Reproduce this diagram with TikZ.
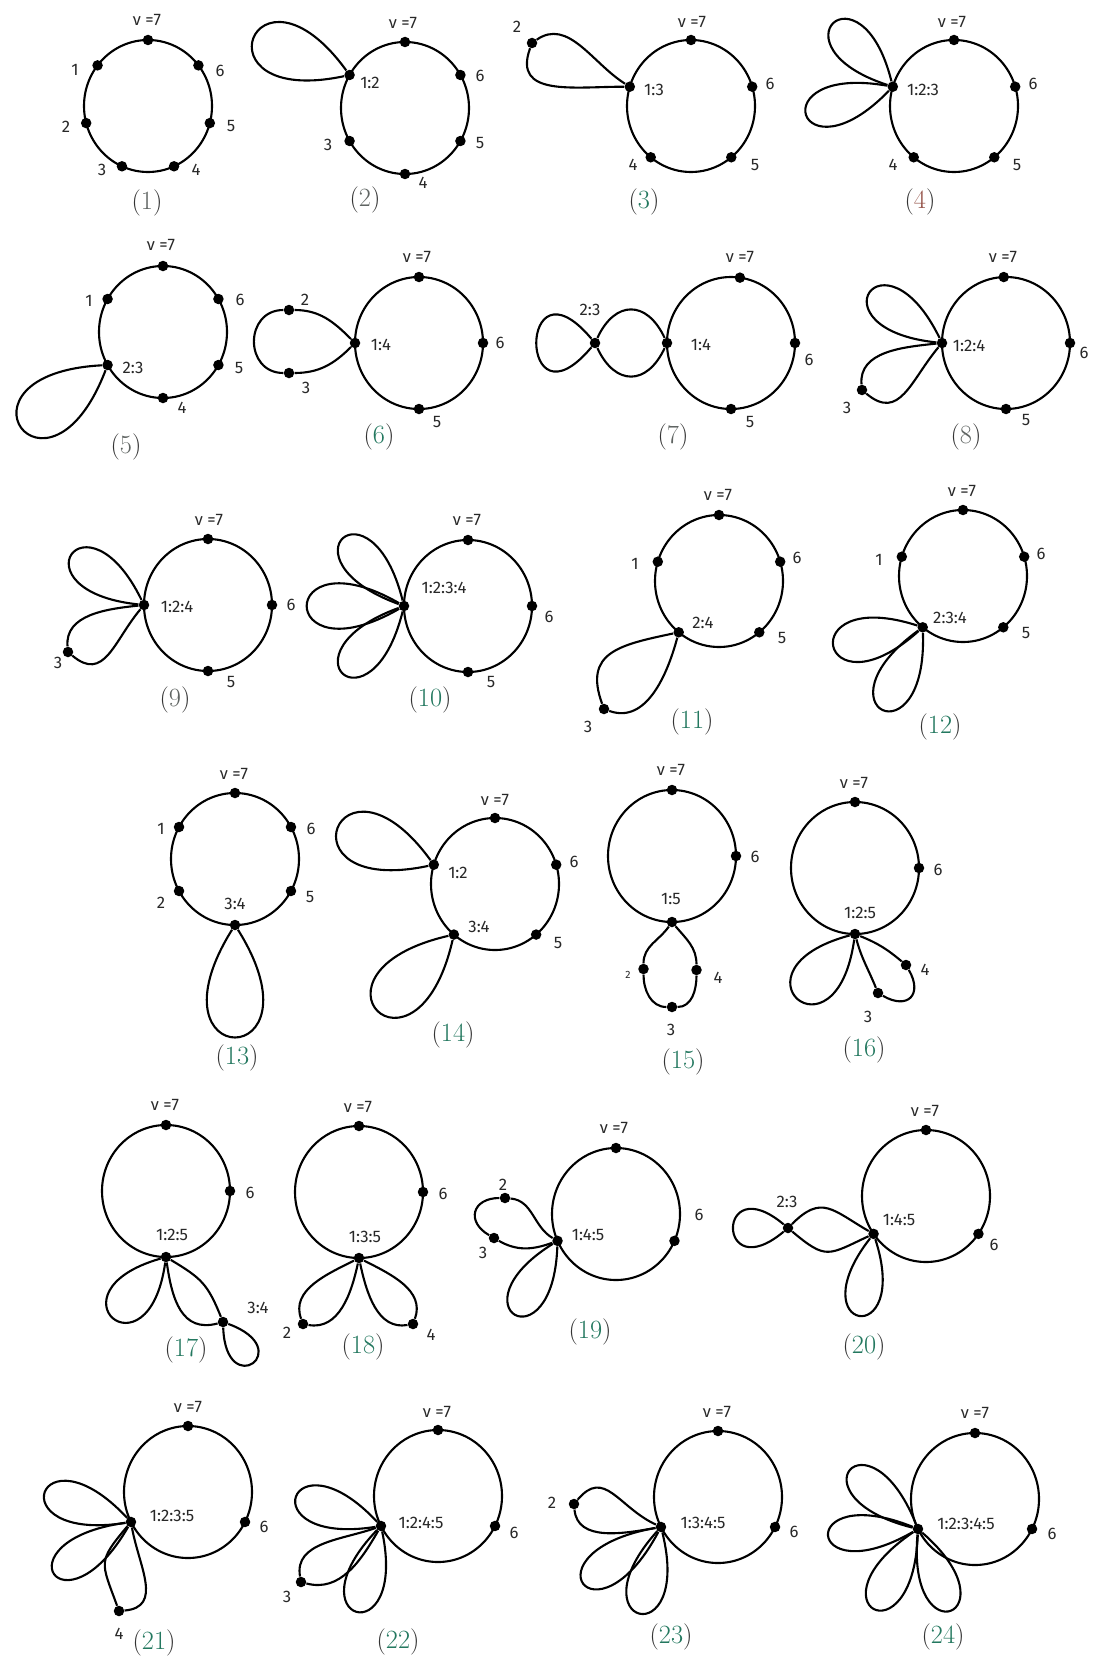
\documentclass[tikz,border=0pt]{standalone}
\usepackage{fontspec}
\usepackage{xcolor}
\usepackage{tikz}
\usetikzlibrary{calc}
\newfontfamily\lblfont{Fira Sans}
\definecolor{capgrey}{RGB}{95,100,98}
\definecolor{capgreen}{RGB}{35,120,95}
\definecolor{capred}{RGB}{150,85,75}
\definecolor{inkgrey}{RGB}{40,40,40}
\tikzset{
  ring/.style={line width=1.2pt, black},
  vtx/.style={circle, fill=black, inner sep=0pt, minimum size=0.21cm},
  lbl/.style={font=\lblfont\fontsize{9.5}{11}\selectfont, text=inkgrey, inner sep=0pt},
  tinylbl/.style={font=\lblfont\fontsize{6}{7}\selectfont, text=inkgrey, inner sep=0pt},
  figcap/.style={font=\fontsize{15}{18}\selectfont, text=black!80, inner sep=0pt}
}

\begin{document}
\begin{tikzpicture}[x=0.02cm, y=0.02cm]
    \path[use as bounding box, fill=white] (0,0) rectangle (1094,-1666);

    \coordinate (c1) at (148,-106);
    \draw[ring] (c1) ellipse [x radius=64, y radius=66];
    \node[vtx] (v17) at ($(c1)+(90:64 and 66)$) {};
    \node[vtx] (v11) at ($(c1)+(142:64 and 66)$) {};
    \node[vtx] (v12) at ($(c1)+(195:64 and 66)$) {};
    \node[vtx] (v13) at ($(c1)+(246:64 and 66)$) {};
    \node[vtx] (v14) at ($(c1)+(294:64 and 66)$) {};
    \node[vtx] (v15) at ($(c1)+(345:64 and 66)$) {};
    \node[vtx] (v16) at ($(c1)+(38:64 and 66)$) {};
    \node[lbl] (nu1) at (147,-20) {ν =7};
    \node[lbl] (l11) at (75,-70) {1};
    \node[lbl] (l16) at (220,-71) {6};
    \node[lbl] (l12) at (66,-127) {2};
    \node[lbl] (l15) at (231,-126) {5};
    \node[lbl] (l13) at (102,-170) {3};
    \node[lbl] (l14) at (196,-170) {4};
    \node[figcap] (cap1) at (147,-203) {(\textcolor{capgrey}{1})};

    \coordinate (c2) at (405,-108);
    \draw[ring] (c2) ellipse [x radius=64, y radius=66];
    \node[vtx] (v27) at ($(c2)+(90:64 and 66)$) {};
    \node[vtx] (j2) at ($(c2)+(150:64 and 66)$) {};
    \node[vtx] (v23) at ($(c2)+(210:64 and 66)$) {};
    \node[vtx] (v24) at ($(c2)+(270:64 and 66)$) {};
    \node[vtx] (v25) at ($(c2)+(330:64 and 66)$) {};
    \node[vtx] (v26) at ($(c2)+(30:64 and 66)$) {};
    \draw[ring] (j2) .. controls +(126:162) and +(192:162) .. (j2);
    \node[lbl] (nu2) at (403,-23) {ν =7};
    \node[lbl] (lj2) at (370,-83) {1:2};
    \node[lbl] (l26) at (480,-76) {6};
    \node[lbl] (l23) at (328,-145) {3};
    \node[lbl] (l25) at (480,-143) {5};
    \node[lbl] (l24) at (423,-183) {4};
    \node[figcap] (cap2) at (365,-200) {(\textcolor{capgrey}{2})};

    \coordinate (c3) at (691,-106);
    \draw[ring] (c3) ellipse [x radius=64, y radius=66];
    \node[vtx] (v37) at ($(c3)+(90:64 and 66)$) {};
    \node[vtx] (j3) at ($(c3)+(163:64 and 66)$) {};
    \node[vtx] (v36) at ($(c3)+(17:64 and 66)$) {};
    \node[vtx] (v34) at ($(c3)+(231:64 and 66)$) {};
    \node[vtx] (v35) at ($(c3)+(309:64 and 66)$) {};
    \node[vtx] (v32) at (532,-43) {};
    \draw[ring] (j3) to[out=148,in=35] (v32) to[out=250,in=180,looseness=1.3] (j3);
    \node[lbl] (nu3) at (692,-22) {ν =7};
    \node[lbl] (lj3) at (654,-90) {1:3};
    \node[lbl] (l36) at (770,-84) {6};
    \node[lbl] (l34) at (633,-165) {4};
    \node[lbl] (l35) at (755,-165) {5};
    \node[lbl] (l32) at (517,-27) {2};
    \node[figcap] (cap3) at (644,-202) {(\textcolor{capgreen}{3})};

    \coordinate (c4) at (954,-106);
    \draw[ring] (c4) ellipse [x radius=64, y radius=66];
    \node[vtx] (v47) at ($(c4)+(90:64 and 66)$) {};
    \node[vtx] (j4) at ($(c4)+(163:64 and 66)$) {};
    \node[vtx] (v46) at ($(c4)+(17:64 and 66)$) {};
    \node[vtx] (v44) at ($(c4)+(231:64 and 66)$) {};
    \node[vtx] (v45) at ($(c4)+(309:64 and 66)$) {};
    \draw[ring] (j4) .. controls +(104:131) and +(162:131) .. (j4);
    \draw[ring] (j4) .. controls +(170:136) and +(226:136) .. (j4);
    \node[lbl] (nu4) at (952,-22) {ν =7};
    \node[lbl] (lj4) at (923,-90) {1:2:3};
    \node[lbl] (l46) at (1033,-84) {6};
    \node[lbl] (l44) at (893,-165) {4};
    \node[lbl] (l45) at (1017,-165) {5};
    \node[figcap] (cap4) at (920,-202) {(\textcolor{capred}{4})};

    \coordinate (c5) at (163,-332);
    \draw[ring] (c5) ellipse [x radius=64, y radius=66];
    \node[vtx] (v57) at ($(c5)+(90:64 and 66)$) {};
    \node[vtx] (v51) at ($(c5)+(150:64 and 66)$) {};
    \node[vtx] (v56) at ($(c5)+(30:64 and 66)$) {};
    \node[vtx] (j5) at ($(c5)+(210:64 and 66)$) {};
    \node[vtx] (v55) at ($(c5)+(330:64 and 66)$) {};
    \node[vtx] (v54) at ($(c5)+(270:64 and 66)$) {};
    \draw[ring] (j5) .. controls +(183:168) and +(249:168) .. (j5);
    \node[lbl] (nu5) at (161,-245) {ν =7};
    \node[lbl] (l51) at (89,-301) {1};
    \node[lbl] (l56) at (240,-300) {6};
    \node[lbl] (lj5) at (133,-368) {2:3};
    \node[lbl] (l55) at (239,-368) {5};
    \node[lbl] (l54) at (182,-408) {4};
    \node[figcap] (cap5) at (126,-447) {(\textcolor{capgrey}{5})};

    \coordinate (c6) at (419,-343);
    \draw[ring] (c6) ellipse [x radius=64, y radius=66];
    \node[vtx] (v67) at ($(c6)+(90:64 and 66)$) {};
    \node[vtx] (j6) at ($(c6)+(180:64 and 66)$) {};
    \node[vtx] (v66) at ($(c6)+(0:64 and 66)$) {};
    \node[vtx] (v65) at ($(c6)+(270:64 and 66)$) {};
    \node[vtx] (v62) at (289,-310) {};
    \node[vtx] (v63) at (289,-373) {};
    \draw[ring] (j6) to[out=135,in=0] (v62) to[out=180,in=180,looseness=1.6] (v63) to[out=0,in=225] (j6);
    \node[lbl] (nu6) at (417,-257) {ν =7};
    \node[lbl] (lj6) at (381,-345) {1:4};
    \node[lbl] (l66) at (500,-343) {6};
    \node[lbl] (l65) at (437,-422) {5};
    \node[lbl] (l62) at (305,-300) {2};
    \node[lbl] (l63) at (306,-388) {3};
    \node[figcap] (cap6) at (379,-437) {(\textcolor{capgreen}{6})};

    \coordinate (c7) at (731,-343);
    \draw[ring] (c7) ellipse [x radius=64, y radius=66];
    \node[vtx] (v77) at ($(c7)+(82:64 and 66)$) {};
    \node[vtx] (j7) at ($(c7)+(180:64 and 66)$) {};
    \node[vtx] (v76) at ($(c7)+(0:64 and 66)$) {};
    \node[vtx] (v75) at ($(c7)+(270:64 and 66)$) {};
    \node[vtx] (j7b) at (595,-343) {};
    \draw[ring] (j7b) to[out=65,in=115,looseness=1.6] (j7);
    \draw[ring] (j7b) to[out=-65,in=-115,looseness=1.6] (j7);
    \draw[ring] (j7b) .. controls +(130:120) and +(230:120) .. (j7b);
    \node[lbl] (nu7) at (740,-257) {ν =7};
    \node[lbl] (lj7) at (701,-345) {1:4};
    \node[lbl] (l76) at (809,-360) {6};
    \node[lbl] (l75) at (750,-422) {5};
    \node[lbl] (lj7b) at (590,-310) {2:3};
    \node[figcap] (cap7) at (673,-437) {(\textcolor{capgrey}{7})};

    \coordinate (c8) at (1006,-343);
    \draw[ring] (c8) ellipse [x radius=64, y radius=66];
    \node[vtx] (v87) at ($(c8)+(92:64 and 66)$) {};
    \node[vtx] (j8) at ($(c8)+(180:64 and 66)$) {};
    \node[vtx] (v86) at ($(c8)+(0:64 and 66)$) {};
    \node[vtx] (v85) at ($(c8)+(270:64 and 66)$) {};
    \node[vtx] (v83) at (862,-390) {};
    \draw[ring] (j8) .. controls +(116:133) and +(174:133) .. (j8);
    \draw[ring] (j8) to[out=186,in=95] (v83) to[out=320,in=230,looseness=1.3] (j8);
    \node[lbl] (nu8) at (1003,-257) {ν =7};
    \node[lbl] (lj8) at (969,-346) {1:2:4};
    \node[lbl] (l86) at (1084,-353) {6};
    \node[lbl] (l85) at (1026,-420) {5};
    \node[lbl] (l83) at (847,-408) {3};
    \node[figcap] (cap8) at (966,-437) {(\textcolor{capgrey}{8})};

    \coordinate (c9) at (208,-605);
    \draw[ring] (c9) ellipse [x radius=64, y radius=66];
    \node[vtx] (v97) at ($(c9)+(90:64 and 66)$) {};
    \node[vtx] (j9) at ($(c9)+(180:64 and 66)$) {};
    \node[vtx] (v96) at ($(c9)+(0:64 and 66)$) {};
    \node[vtx] (v95) at ($(c9)+(270:64 and 66)$) {};
    \node[vtx] (v93) at (68,-652) {};
    \draw[ring] (j9) .. controls +(116:133) and +(174:133) .. (j9);
    \draw[ring] (j9) to[out=186,in=95] (v93) to[out=320,in=230,looseness=1.3] (j9);
    \node[lbl] (nu9) at (209,-520) {ν =7};
    \node[lbl] (lj9) at (177,-607) {1:2:4};
    \node[lbl] (l96) at (291,-605) {6};
    \node[lbl] (l95) at (231,-682) {5};
    \node[lbl] (l93) at (58,-663) {3};
    \node[figcap] (cap9) at (175,-700) {(\textcolor{capgrey}{9})};

    \coordinate (c10) at (468,-606);
    \draw[ring] (c10) ellipse [x radius=64, y radius=66];
    \node[vtx] (v107) at ($(c10)+(90:64 and 66)$) {};
    \node[vtx] (j10) at ($(c10)+(180:64 and 66)$) {};
    \node[vtx] (v106) at ($(c10)+(0:64 and 66)$) {};
    \node[vtx] (v105) at ($(c10)+(270:64 and 66)$) {};
    \draw[ring] (j10) .. controls +(104:136) and +(160:136) .. (j10);
    \draw[ring] (j10) .. controls +(150:148) and +(210:148) .. (j10);
    \draw[ring] (j10) .. controls +(200:136) and +(256:136) .. (j10);
    \node[lbl] (nu10) at (467,-520) {ν =7};
    \node[lbl] (lj10) at (444,-588) {1:2:3:4};
    \node[lbl] (l106) at (549,-617) {6};
    \node[lbl] (l105) at (491,-682) {5};
    \node[figcap] (cap10) at (430,-700) {(\textcolor{capgreen}{10})};

    \coordinate (c11) at (719,-581);
    \draw[ring] (c11) ellipse [x radius=64, y radius=66];
    \node[vtx] (v117) at ($(c11)+(90:64 and 66)$) {};
    \node[vtx] (v111) at ($(c11)+(163:64 and 66)$) {};
    \node[vtx] (v116) at ($(c11)+(17:64 and 66)$) {};
    \node[vtx] (j11) at ($(c11)+(231:64 and 66)$) {};
    \node[vtx] (v115) at ($(c11)+(309:64 and 66)$) {};
    \node[vtx] (v113) at (604,-709) {};
    \draw[ring] (j11) to[out=192,in=110,looseness=1.4] (v113) to[out=-20,in=255] (j11);
    \node[lbl] (nu11) at (718,-495) {ν =7};
    \node[lbl] (l111) at (635,-564) {1};
    \node[lbl] (l116) at (797,-558) {6};
    \node[lbl] (lj11) at (703,-623) {2:4};
    \node[lbl] (l115) at (782,-638) {5};
    \node[lbl] (l113) at (588,-727) {3};
    \node[figcap] (cap11) at (692,-722) {(\textcolor{capgreen}{11})};

    \coordinate (c12) at (963,-576);
    \draw[ring] (c12) ellipse [x radius=64, y radius=66];
    \node[vtx] (v127) at ($(c12)+(90:64 and 66)$) {};
    \node[vtx] (v121) at ($(c12)+(163:64 and 66)$) {};
    \node[vtx] (v126) at ($(c12)+(17:64 and 66)$) {};
    \node[vtx] (j12) at ($(c12)+(231:64 and 66)$) {};
    \node[vtx] (v125) at ($(c12)+(309:64 and 66)$) {};
    \draw[ring] (j12) .. controls +(162:139) and +(222:139) .. (j12);
    \draw[ring] (j12) .. controls +(216:137) and +(272:137) .. (j12);
    \node[lbl] (nu12) at (962,-491) {ν =7};
    \node[lbl] (l121) at (879,-560) {1};
    \node[lbl] (l126) at (1041,-554) {6};
    \node[lbl] (lj12) at (950,-618) {2:3:4};
    \node[lbl] (l125) at (1026,-633) {5};
    \node[figcap] (cap12) at (940,-727) {(\textcolor{capgreen}{12})};

    \coordinate (c13) at (235,-859);
    \draw[ring] (c13) ellipse [x radius=64, y radius=66];
    \node[vtx] (v137) at ($(c13)+(90:64 and 66)$) {};
    \node[vtx] (v131) at ($(c13)+(151:64 and 66)$) {};
    \node[vtx] (v136) at ($(c13)+(29:64 and 66)$) {};
    \node[vtx] (v132) at ($(c13)+(209:64 and 66)$) {};
    \node[vtx] (v135) at ($(c13)+(331:64 and 66)$) {};
    \node[vtx] (j13) at ($(c13)+(270:64 and 66)$) {};
    \draw[ring] (j13) .. controls +(238:175) and +(302:175) .. (j13);
    \node[lbl] (nu13) at (234,-774) {ν =7};
    \node[lbl] (l131) at (161,-829) {1};
    \node[lbl] (l136) at (311,-829) {6};
    \node[lbl] (l132) at (161,-903) {2};
    \node[lbl] (l135) at (310,-897) {5};
    \node[lbl] (lj13) at (235,-904) {3:4};
    \node[figcap] (cap13) at (237,-1058) {(\textcolor{capgreen}{13})};

    \coordinate (c14) at (495,-884);
    \draw[ring] (c14) ellipse [x radius=64, y radius=66];
    \node[vtx] (v147) at ($(c14)+(90:64 and 66)$) {};
    \node[vtx] (j14) at ($(c14)+(163:64 and 66)$) {};
    \node[vtx] (v146) at ($(c14)+(17:64 and 66)$) {};
    \node[vtx] (j14b) at ($(c14)+(230:64 and 66)$) {};
    \node[vtx] (v145) at ($(c14)+(310:64 and 66)$) {};
    \draw[ring] (j14) .. controls +(126:162) and +(192:162) .. (j14);
    \draw[ring] (j14b) .. controls +(193:168) and +(257:168) .. (j14b);
    \node[lbl] (nu14) at (495,-800) {ν =7};
    \node[lbl] (lj14) at (458,-873) {1:2};
    \node[lbl] (lj14b) at (479,-927) {3:4};
    \node[lbl] (l146) at (574,-862) {6};
    \node[lbl] (l145) at (558,-943) {5};
    \node[figcap] (cap14) at (453,-1035) {(\textcolor{capgreen}{14})};

    \coordinate (c15) at (672,-856);
    \draw[ring] (c15) ellipse [x radius=64, y radius=66];
    \node[vtx] (v157) at ($(c15)+(90:64 and 66)$) {};
    \node[vtx] (v156) at ($(c15)+(0:64 and 66)$) {};
    \node[vtx] (j15) at ($(c15)+(270:64 and 66)$) {};
    \node[vtx] (v152) at (643.5,-969) {};
    \node[vtx] (v153) at (672,-1007) {};
    \node[vtx] (v154) at (696.5,-970) {};
    \draw[ring] (j15) to[out=235,in=90] (v152) to[out=270,in=180] (v153) to[out=0,in=270] (v154) to[out=90,in=310] (j15);
    \node[lbl] (nu15) at (671,-770) {ν =7};
    \node[lbl] (l156) at (755,-857) {6};
    \node[lbl] (lj15) at (671,-899) {1:5};
    \node[tinylbl] (l152) at (628,-975) {2};
    \node[lbl] (l153) at (671,-1030) {3};
    \node[lbl] (l154) at (718,-978) {4};
    \node[figcap] (cap15) at (683,-1062) {(\textcolor{capgreen}{15})};

    \coordinate (c16) at (855,-868);
    \draw[ring] (c16) ellipse [x radius=64, y radius=66];
    \node[vtx] (v167) at ($(c16)+(90:64 and 66)$) {};
    \node[vtx] (v166) at ($(c16)+(0:64 and 66)$) {};
    \node[vtx] (j16) at ($(c16)+(270:64 and 66)$) {};
    \node[vtx] (v164) at (906,-965) {};
    \node[vtx] (v163) at (878,-993) {};
    \draw[ring] (j16) .. controls +(195:137) and +(262:137) .. (j16);
    \draw[ring] (j16) to[out=338,in=140] (v164) to[out=300,in=330,looseness=2] (v163) to[out=112,in=285] (j16);
    \node[lbl] (nu16) at (854,-783) {ν =7};
    \node[lbl] (l166) at (938,-870) {6};
    \node[lbl] (lj16) at (860,-913) {1:2:5};
    \node[lbl] (l164) at (925,-970) {4};
    \node[lbl] (l163) at (868,-1017) {3};
    \node[figcap] (cap16) at (864,-1050) {(\textcolor{capgreen}{16})};

    \coordinate (c17) at (166,-1191);
    \draw[ring] (c17) ellipse [x radius=64, y radius=66];
    \node[vtx] (v177) at ($(c17)+(90:64 and 66)$) {};
    \node[vtx] (v176) at ($(c17)+(0:64 and 66)$) {};
    \node[vtx] (j17) at ($(c17)+(270:64 and 66)$) {};
    \node[vtx] (j17b) at (223,-1322) {};
    \draw[ring] (j17) .. controls +(196:127) and +(262:127) .. (j17);
    \draw[ring] (j17) to[out=329,in=112,looseness=1.2] (j17b);
    \draw[ring] (j17) to[out=278,in=195,looseness=1.2] (j17b);
    \draw[ring] (j17b) .. controls +(272:80) and +(340:80) .. (j17b);
    \node[lbl] (nu17) at (165,-1105) {ν =7};
    \node[lbl] (l176) at (250,-1193) {6};
    \node[lbl] (lj17) at (172,-1235) {1:2:5};
    \node[lbl] (lj17b) at (258,-1308) {3:4};
    \node[figcap] (cap17) at (186,-1350) {(\textcolor{capgreen}{17})};

    \coordinate (c18) at (359,-1192);
    \draw[ring] (c18) ellipse [x radius=64, y radius=66];
    \node[vtx] (v187) at ($(c18)+(90:64 and 66)$) {};
    \node[vtx] (v186) at ($(c18)+(0:64 and 66)$) {};
    \node[vtx] (j18) at ($(c18)+(270:64 and 66)$) {};
    \node[vtx] (v182) at (303,-1324) {};
    \node[vtx] (v184) at (413,-1324) {};
    \draw[ring] (j18) to[out=207,in=110] (v182) to[out=-10,in=258] (j18);
    \draw[ring] (j18) to[out=333,in=70] (v184) to[out=190,in=282] (j18);
    \node[lbl] (nu18) at (358,-1107) {ν =7};
    \node[lbl] (l186) at (443,-1194) {6};
    \node[lbl] (lj18) at (365,-1237) {1:3:5};
    \node[lbl] (l182) at (287,-1333) {2};
    \node[lbl] (l184) at (431,-1335) {4};
    \node[figcap] (cap18) at (363,-1347) {(\textcolor{capgreen}{18})};

    \coordinate (c19) at (616,-1214);
    \draw[ring] (c19) ellipse [x radius=64, y radius=66];
    \node[vtx] (v197) at ($(c19)+(90:64 and 66)$) {};
    \node[vtx] (j19) at ($(c19)+(204:64 and 66)$) {};
    \node[vtx] (v196) at ($(c19)+(336:64 and 66)$) {};
    \node[vtx] (v192) at (505,-1198) {};
    \node[vtx] (v193) at (494,-1238) {};
    \draw[ring] (j19) to[out=150,in=355] (v192) to[out=180,in=150,looseness=1.8] (v193) to[out=330,in=200] (j19);
    \draw[ring] (j19) .. controls +(212:127) and +(268:127) .. (j19);
    \node[lbl] (nu19) at (614,-1128) {ν =7};
    \node[lbl] (lj19) at (588,-1235) {1:4:5};
    \node[lbl] (l196) at (699,-1215) {6};
    \node[lbl] (l192) at (503,-1185) {2};
    \node[lbl] (l193) at (483,-1253) {3};
    \node[figcap] (cap19) at (590,-1332) {(\textcolor{capgreen}{19})};

    \coordinate (c20) at (926,-1196);
    \draw[ring] (c20) ellipse [x radius=64, y radius=66];
    \node[vtx] (v207) at ($(c20)+(90:64 and 66)$) {};
    \node[vtx] (j20) at ($(c20)+(215:64 and 66)$) {};
    \node[vtx] (v206) at ($(c20)+(325:64 and 66)$) {};
    \node[vtx] (j20b) at (788,-1228) {};
    \draw[ring] (j20b) to[out=45,in=150,looseness=1.4] (j20);
    \draw[ring] (j20b) to[out=-40,in=205,looseness=1.5] (j20);
    \draw[ring] (j20b) .. controls +(140:94) and +(220:94) .. (j20b);
    \draw[ring] (j20) .. controls +(232:124) and +(288:124) .. (j20);
    \node[lbl] (nu20) at (925,-1111) {ν =7};
    \node[lbl] (lj20) at (899,-1220) {1:4:5};
    \node[lbl] (l206) at (994,-1245) {6};
    \node[lbl] (lj20b) at (787,-1202) {2:3};
    \node[figcap] (cap20) at (864,-1347) {(\textcolor{capgreen}{20})};

    \coordinate (c21) at (188,-1492);
    \draw[ring] (c21) ellipse [x radius=64, y radius=66];
    \node[vtx] (v217) at ($(c21)+(90:64 and 66)$) {};
    \node[vtx] (j21) at ($(c21)+(207:64 and 66)$) {};
    \node[vtx] (v216) at ($(c21)+(333:64 and 66)$) {};
    \node[vtx] (v214) at (119,-1611) {};
    \draw[ring] (j21) .. controls +(133:136) and +(189:136) .. (j21);
    \draw[ring] (j21) .. controls +(188:136) and +(240:136) .. (j21);
    \draw[ring] (j21) to[out=230,in=110,looseness=1.5] (v214) to[out=5,in=280,looseness=1.2] (j21);
    \node[lbl] (nu21) at (188,-1407) {ν =7};
    \node[lbl] (lj21) at (172,-1516) {1:2:3:5};
    \node[lbl] (l216) at (264,-1527) {6};
    \node[lbl] (l214) at (119,-1634) {4};
    \node[figcap] (cap21) at (154,-1643) {(\textcolor{capgreen}{21})};

    \coordinate (c22) at (438,-1496);
    \draw[ring] (c22) ellipse [x radius=64, y radius=66];
    \node[vtx] (v227) at ($(c22)+(90:64 and 66)$) {};
    \node[vtx] (j22) at ($(c22)+(207:64 and 66)$) {};
    \node[vtx] (v226) at ($(c22)+(333:64 and 66)$) {};
    \node[vtx] (v223) at (301,-1582) {};
    \draw[ring] (j22) .. controls +(133:134) and +(189:134) .. (j22);
    \draw[ring] (j22) to[out=200,in=100] (v223) to[out=-15,in=240] (j22);
    \draw[ring] (j22) .. controls +(226:133) and +(282:133) .. (j22);
    \node[lbl] (nu22) at (437,-1412) {ν =7};
    \node[lbl] (lj22) at (421,-1523) {1:2:4:5};
    \node[lbl] (l226) at (514,-1533) {6};
    \node[lbl] (l223) at (287,-1597) {3};
    \node[figcap] (cap22) at (398,-1642) {(\textcolor{capgreen}{22})};

    \coordinate (c23) at (718,-1497);
    \draw[ring] (c23) ellipse [x radius=64, y radius=66];
    \node[vtx] (v237) at ($(c23)+(90:64 and 66)$) {};
    \node[vtx] (j23) at ($(c23)+(207:64 and 66)$) {};
    \node[vtx] (v236) at ($(c23)+(333:64 and 66)$) {};
    \node[vtx] (v232) at (574,-1504) {};
    \draw[ring] (j23) to[out=155,in=50,looseness=1.3] (v232) to[out=275,in=190] (j23);
    \draw[ring] (j23) .. controls +(190:141) and +(242:141) .. (j23);
    \draw[ring] (j23) .. controls +(228:133) and +(284:133) .. (j23);
    \node[lbl] (nu23) at (717,-1412) {ν =7};
    \node[lbl] (lj23) at (703,-1523) {1:3:4:5};
    \node[lbl] (l236) at (794,-1532) {6};
    \node[lbl] (l232) at (552,-1503) {2};
    \node[figcap] (cap23) at (671,-1637) {(\textcolor{capgreen}{23})};

    \coordinate (c24) at (975,-1499);
    \draw[ring] (c24) ellipse [x radius=64, y radius=66];
    \node[vtx] (v247) at ($(c24)+(90:64 and 66)$) {};
    \node[vtx] (j24) at ($(c24)+(207:64 and 66)$) {};
    \node[vtx] (v246) at ($(c24)+(333:64 and 66)$) {};
    \draw[ring] (j24) .. controls +(112:133) and +(166:133) .. (j24);
    \draw[ring] (j24) .. controls +(158:132) and +(210:132) .. (j24);
    \draw[ring] (j24) .. controls +(214:135) and +(268:135) .. (j24);
    \draw[ring] (j24) .. controls +(265:130) and +(319:130) .. (j24);
    \node[lbl] (nu24) at (975,-1413) {ν =7};
    \node[lbl] (lj24) at (966,-1524) {1:2:3:4:5};
    \node[lbl] (l246) at (1052,-1534) {6};
    \node[figcap] (cap24) at (943,-1637) {(\textcolor{capgreen}{24})};
\end{tikzpicture}
\end{document}
